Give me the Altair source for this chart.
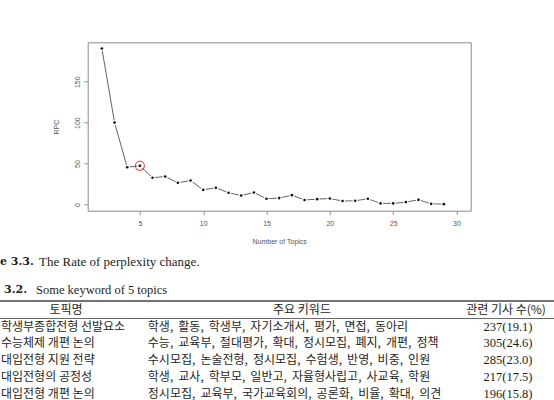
import altair as alt
import pandas as pd

# Rate of perplexity change (RPC) by number of LDA topics
topics = list(range(2, 30))
rpc = [190.5, 100.0, 45.5, 47.2, 32.6, 34.2, 26.5, 29.3, 17.9, 20.4,
       14.3, 11.0, 14.6, 7.0, 7.8, 11.4, 5.5, 6.5, 7.3, 4.2,
       4.5, 7.0, 1.3, 1.3, 2.9, 5.7, 0.8, 0.4]
chosen_k = 5

x_ticks = [5, 10, 15, 20, 25, 30]
y_ticks = [0, 50, 100, 150]

# Table 3.2 contents
topic_names = ["학생부종합전형 선발요소", "수능체제 개편 논의", "대입전형 지원 전략",
               "대입전형의 공정성", "대입전형 개편 논의"]
keywords = ["학생, 활동, 학생부, 자기소개서, 평가, 면접, 동아리",
            "수능, 교육부, 절대평가, 확대, 정시모집, 폐지, 개편, 정책",
            "수시모집, 논술전형, 정시모집, 수험생, 반영, 비중, 인원",
            "학생, 교사, 학부모, 일반고, 자율형사립고, 사교육, 학원",
            "정시모집, 교육부, 국가교육회의, 공론화, 비율, 확대, 의견"]
article_counts = [237, 305, 285, 217, 196]
article_shares = [19.1, 24.6, 23.0, 17.5, 15.8]
headers = ["토픽명", "주요 키워드", "관련 기사 수(%)"]

# ---- page layout (pixels) ----
PAGE_W, PAGE_H = 554, 400
PLOT_L, PLOT_T, PLOT_R, PLOT_B = 87.7, 42.3, 470.7, 210.7
PLOT_W, PLOT_H = PLOT_R - PLOT_L, PLOT_B - PLOT_T

KR = "Noto Sans CJK KR"
SERIF = "Liberation Serif"
SERIF_BOLD = "DejaVu Serif"
SANS = "Liberation Sans"


def px(x):
    return x - PLOT_L


def py(y):
    return y - PLOT_T


# ---- RPC plot ----
rpc_df = pd.DataFrame({"k": topics, "rpc": rpc})

x_scale = alt.Scale(domain=[0.88, 31.12], nice=False, zero=False)
y_scale = alt.Scale(domain=[-7.6, 198.1], nice=False, zero=False)

x_axis = alt.Axis(values=x_ticks, title="Number of Topics", labelPadding=5,
                  labelFlush=False, labelOverlap=False,
                  titleX=PLOT_W / 2, titleY=30.5, titleBaseline="middle",
                  titleAlign="center")
y_axis = alt.Axis(values=y_ticks, title="RPC", labelAngle=270,
                  labelAlign="center", labelBaseline="bottom", labelPadding=3,
                  labelFlush=False, labelOverlap=False,
                  titleAngle=270, titleX=56.7 - PLOT_L, titleY=PLOT_H / 2,
                  titleBaseline="middle", titleAlign="center")

base = alt.Chart(rpc_df).encode(
    x=alt.X("k:Q", scale=x_scale, axis=x_axis),
    y=alt.Y("rpc:Q", scale=y_scale, axis=y_axis),
)

line = base.mark_line(color="#3c3c3c", strokeWidth=0.8)
# type="b" style: small gaps in the line around each point
gaps = base.mark_circle(color="white", opacity=1, size=26)
dots = base.mark_circle(color="#111111", opacity=1, size=7)
ring = base.transform_filter(alt.datum.k == chosen_k).mark_point(
    shape="circle", filled=False, color="#e2453d", strokeWidth=1.1,
    size=82, opacity=1)

plot = alt.layer(line, gaps, dots, ring)

# ---- table body ----
# keyword lists are set with a slightly wider gap after each comma
table_df = pd.DataFrame({
    "row": list(range(len(topic_names))),
    "name": topic_names,
    "kw": [k.replace(", ", ",\u2009 ") for k in keywords],
    "n": [f"{c}({s:.1f})" for c, s in zip(article_counts, article_shares)],
})
ROW0, ROW_STEP = 326.5, 16.75
row_scale = alt.Scale(domain=[0, 4], range=[py(ROW0), py(ROW0 + 4 * ROW_STEP)])
row_y = alt.Y("row:Q", scale=row_scale, axis=None)

body_base = alt.Chart(table_df)
col1 = body_base.mark_text(align="left", baseline="middle", font=KR,
                           fontSize=12, color="#262626").encode(
    x=alt.value(px(1)), y=row_y, text="name:N")
col2 = body_base.mark_text(align="left", baseline="middle", font=KR,
                           fontSize=12, color="#262626").encode(
    x=alt.value(px(147.8)), y=row_y, text="kw:N")
col3 = body_base.mark_text(align="center", baseline="middle", font=SERIF,
                           fontSize=12.5, color="#1e1e1e").encode(
    x=alt.value(px(508)), y=row_y, text="n:N")
body = alt.layer(col1, col2, col3)

# ---- captions, header and rules ----
one = pd.DataFrame({"v": [0]})


def label(text, x, y, font, size, weight="normal", align="left"):
    return alt.Chart(pd.DataFrame({"t": [text]})).mark_text(
        align=align, baseline="middle", font=font, fontSize=size,
        fontWeight=weight, color="#1e1e1e").encode(
        x=alt.value(px(x)), y=alt.value(py(y)), text="t:N")


def hrule(y, width):
    return alt.Chart(one).mark_rule(color="#444444", strokeWidth=width).encode(
        x=alt.value(px(0)), x2=alt.value(px(PAGE_W)), y=alt.value(py(y)))


deco = alt.layer(
    label("e 3.3.", 0, 262, SERIF_BOLD, 11, "bold"),
    label("The Rate of perplexity change.", 39, 262, SERIF, 13),
    label("3.2.", 4, 290, SERIF_BOLD, 11, "bold"),
    label("Some keyword of 5 topics", 36, 290, SERIF, 12.5),
    hrule(301, 1.3),
    label(headers[0], 66, 310, KR, 12, align="center"),
    label(headers[1], 302, 310, KR, 12, align="center"),
    label(headers[2], 506, 310, KR, 12, align="center"),
    hrule(318.5, 0.8),
)

chart = alt.layer(plot, body, deco).resolve_scale(
    y="independent", x="independent"
).properties(
    width=PLOT_W,
    height=PLOT_H,
    padding={"left": PLOT_L, "top": PLOT_T,
             "right": PAGE_W - PLOT_R, "bottom": PAGE_H - PLOT_B},
    autosize=alt.AutoSizeParams(type="none"),
    background="white",
).configure_view(
    stroke="#8a8a8a", strokeWidth=1
).configure_axis(
    domain=False, grid=False, ticks=True, tickSize=4, tickColor="#8a8a8a",
    tickWidth=0.9, labelFont=SANS, labelFontSize=7, labelColor="#555555",
    titleFont=SANS, titleFontSize=7, titleFontWeight="normal",
    titleColor="#555555",
)

chart.save("out.html", embed_options={"renderer": "svg", "actions": False})
